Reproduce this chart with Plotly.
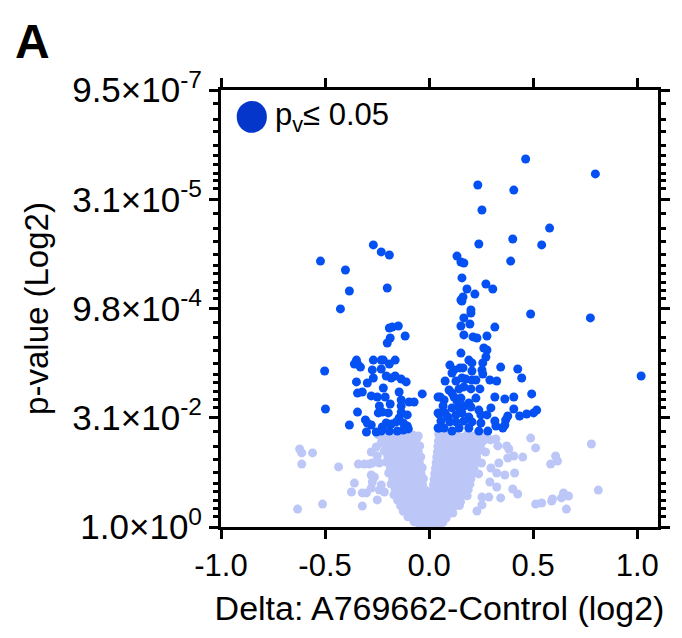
import plotly.graph_objects as go

# ---------------- data (x = log2 delta, y = -log2 p) ----------------
# significant points (p <= 0.05)
sig_x = [
    -0.522, -0.402, -0.383, -0.426, -0.268, -0.230, -0.191, -0.201,
    0.464, 0.799, 0.234, 0.407, 0.254, 0.579, 0.239, 0.402, 0.541, 0.134, 0.153, 0.167, 0.392, 0.158, 0.273, 0.306, 0.182, 0.220, 0.163, 0.153, 0.201,
    -0.502, -0.498, -0.383, -0.349, -0.344, -0.359, -0.330, -0.349, -0.344, -0.321, -0.344, -0.297, -0.268, -0.273, -0.268, -0.230, -0.220, -0.230, -0.191, -0.163,
    -0.191, -0.177, -0.148, -0.187, -0.201, -0.115, -0.206, -0.182, -0.163, -0.134, -0.110, -0.278, -0.249, -0.220, -0.211, -0.144, -0.239, -0.244, -0.225, -0.187,
    -0.134, -0.134, -0.096, -0.072, -0.033, -0.196, -0.134, -0.105, -0.306, -0.297, -0.278, -0.301, -0.254, -0.225, -0.206, -0.182, -0.158, -0.144, -0.124, -0.105,
    -0.100, -0.230, -0.191, -0.153, -0.124, 0.043, 0.043, 0.043,
    0.158, 0.201, 0.167, 0.196, 0.153, 0.316, 0.488, 0.775, 1.019, 0.167, 0.211, 0.230, 0.278, 0.263, 0.278, 0.153, 0.273, 0.191, 0.206, 0.258,
    0.344, 0.426, 0.445, 0.100, 0.120, 0.110, 0.148, 0.163, 0.206, 0.254, 0.258, 0.077, 0.129, 0.158, 0.177, 0.206, 0.225, 0.292, 0.325, 0.096,
    0.110, 0.144, 0.167, 0.201, 0.244, 0.316, 0.364, 0.407, 0.493, 0.053, 0.072, 0.120, 0.134, 0.153, 0.225, 0.191, 0.067, 0.110, 0.144, 0.167,
    0.201, 0.239, 0.297, 0.407, 0.517, 0.502, 0.469, 0.435, 0.048, 0.077, 0.091, 0.129, 0.158, 0.191, 0.249, 0.278, 0.378, 0.368, 0.057, 0.100,
    0.129, 0.167, 0.206, 0.249, 0.316, 0.321, 0.364, 0.048, 0.072, 0.110, 0.144, 0.191, 0.239, 0.282, 0.354,
]
sig_y = [
    12.17, 11.76, 10.80, 9.98, 12.91, 12.59, 12.45, 10.94,
    16.84, 16.16, 15.65, 15.42, 14.51, 13.68, 12.95, 13.18, 12.91, 12.40, 12.13, 12.08, 12.17, 11.40, 11.12, 10.89, 10.89, 10.66, 10.53, 10.39, 9.93,
    7.14, 5.40, 4.67, 7.64, 7.46, 7.46, 7.32, 6.64, 6.13, 6.18, 5.26, 6.59, 6.82, 7.19, 7.64, 7.64, 7.64, 7.23, 7.46, 7.64,
    9.11, 9.15, 9.20, 8.65, 8.42, 8.74, 6.91, 6.82, 6.91, 6.77, 6.64, 6.00, 5.95, 6.36, 5.95, 6.18, 5.54, 5.22, 5.26, 5.63,
    5.81, 5.54, 5.72, 5.72, 6.09, 5.22, 5.26, 5.13, 4.90, 4.76, 4.67, 4.35, 4.35, 4.58, 4.76, 4.71, 4.81, 4.99, 4.76, 4.62,
    4.49, 4.39, 4.39, 4.39, 4.44, 5.95, 5.22, 4.53,
    10.34, 9.79, 9.57, 9.29, 9.20, 9.15, 9.75, 9.57, 6.91, 8.79, 8.70, 8.65, 8.74, 8.19, 8.10, 7.96, 7.78, 7.64, 7.51, 7.51,
    7.32, 7.23, 6.82, 7.41, 7.19, 7.05, 7.28, 7.28, 7.14, 7.19, 7.00, 6.68, 6.68, 6.82, 6.77, 6.73, 6.73, 6.73, 6.68, 6.27,
    6.13, 6.32, 6.41, 6.32, 6.32, 5.95, 5.86, 5.95, 6.09, 5.95, 5.81, 5.95, 5.77, 5.90, 5.90, 5.68, 5.54, 5.45, 5.49, 5.54,
    5.49, 5.35, 5.45, 5.40, 5.35, 5.22, 5.17, 5.08, 5.17, 5.22, 5.03, 5.13, 5.22, 5.03, 5.13, 5.13, 5.08, 4.90, 4.85, 4.81,
    4.81, 4.85, 4.81, 4.76, 4.85, 4.62, 4.67, 4.53, 4.53, 4.39, 4.53, 4.53, 4.39, 4.39, 4.53,
]

# non-significant points: scattered outliers
ns_out_x = [
    -0.622, -0.612, -0.560, -0.612, -0.435, -0.632, -0.512, -0.359, -0.373, -0.321,
    -0.301, -0.321, -0.340, -0.311, -0.287, -0.273, -0.239, -0.278, -0.263, -0.273,
    -0.278, -0.239, -0.249, -0.230, -0.215, -0.278, -0.254, -0.230, -0.249, -0.206,
    0.488, 0.512, 0.780, 0.608, 0.617, 0.584, 0.450, 0.407, 0.378, 0.373,
    0.330, 0.321, 0.383, 0.411, 0.364, 0.325, 0.297, 0.335, 0.813, 0.646,
    0.670, 0.636, 0.593, 0.589, 0.541, 0.512, 0.660, 0.426, 0.402, 0.344,
    0.325, 0.292, 0.287, 0.254, 0.230, 0.254,
]
ns_out_y = [
    3.57, 3.39, 3.39, 2.88, 2.75, 0.82, 1.05, 2.01, 1.60, 1.56,
    1.56, 0.96, 2.88, 2.88, 2.88, 2.93, 2.93, 2.38, 2.29, 2.06,
    1.78, 1.69, 1.24, 1.92, 1.60, 3.43, 3.66, 3.84, 3.25, 3.66,
    4.07, 3.62, 3.80, 3.25, 3.02, 2.88, 3.20, 3.25, 3.16, 3.71,
    3.71, 4.03, 3.57, 2.47, 2.38, 2.47, 2.70, 2.93, 1.69, 1.56,
    1.42, 1.33, 1.28, 1.19, 1.10, 1.05, 0.82, 1.51, 1.74, 1.33,
    1.83, 2.06, 1.37, 1.37, 0.73, 1.01,
]

# non-significant points: dense V-shaped core
ns_core_x = [
    -0.245, -0.212, -0.183, -0.152, -0.128, -0.101, -0.078, -0.052, 0.046, 0.071, 0.098, 0.127, 0.156, 0.183, 0.214, 0.241, 0.268,
    -0.226, -0.195, -0.168, -0.139, -0.112, -0.087, -0.061, 0.045, 0.066, 0.089, 0.118, 0.143, 0.172, 0.201, 0.229, 0.262, 0.296,
    -0.205, -0.176, -0.148, -0.121, -0.094, -0.069, -0.045, 0.042, 0.061, 0.084, 0.108, 0.136, 0.164, 0.191, 0.218, 0.247,
    -0.215, -0.187, -0.158, -0.131, -0.104, -0.078, -0.052, 0.040, 0.058, 0.079, 0.103, 0.129, 0.157, 0.185, 0.208, 0.236, 0.271,
    -0.198, -0.169, -0.141, -0.113, -0.088, -0.063, -0.040, 0.037, 0.055, 0.075, 0.098, 0.124, 0.151, 0.176, 0.203, 0.228,
    -0.206, -0.178, -0.149, -0.122, -0.096, -0.071, -0.047, 0.034, 0.052, 0.071, 0.093, 0.119, 0.145, 0.171, 0.196, 0.224, 0.252,
    -0.186, -0.158, -0.131, -0.104, -0.079, -0.055, -0.033, 0.031, 0.048, 0.067, 0.089, 0.114, 0.139, 0.165, 0.190, 0.216,
    -0.194, -0.165, -0.138, -0.112, -0.087, -0.062, -0.039, 0.027, 0.044, 0.063, 0.085, 0.109, 0.134, 0.158, 0.183, 0.207, 0.238,
    -0.175, -0.147, -0.120, -0.095, -0.070, -0.047, -0.027, 0.024, 0.040, 0.059, 0.081, 0.104, 0.128, 0.152, 0.177, 0.201,
    -0.182, -0.155, -0.128, -0.102, -0.077, -0.054, -0.032, 0.021, 0.036, 0.055, 0.076, 0.099, 0.122, 0.146, 0.171, 0.196,
    -0.163, -0.137, -0.111, -0.086, -0.062, -0.040, -0.020, 0.017, 0.032, 0.051, 0.071, 0.094, 0.117, 0.140, 0.164, 0.188,
    -0.169, -0.144, -0.119, -0.094, -0.070, -0.047, -0.026, -0.010, 0.013, 0.028, 0.047, 0.067, 0.089, 0.111, 0.134, 0.158, 0.183,
    -0.151, -0.126, -0.101, -0.078, -0.055, -0.034, -0.014, 0.004, 0.021, 0.041, 0.062, 0.084, 0.106, 0.128, 0.151,
    -0.137, -0.112, -0.088, -0.065, -0.043, -0.022, -0.003, 0.015, 0.035, 0.056, 0.078, 0.099, 0.121, 0.146,
    -0.124, -0.099, -0.075, -0.053, -0.032, -0.012, 0.007, 0.027, 0.048, 0.069, 0.091, 0.114,
    -0.102, -0.079, -0.057, -0.036, -0.017, 0.002, 0.021, 0.040, 0.061, 0.083,
    -0.072, -0.051, -0.031, -0.012, 0.006, 0.025, 0.045, 0.066,
    -0.041, -0.022, -0.004, 0.014, 0.033, 0.051,
]
ns_core_y = [
    4.22, 4.15, 4.25, 4.18, 4.27, 4.12, 4.21, 4.17, 4.24, 4.14, 4.26, 4.19, 4.11, 4.23, 4.16, 4.20, 4.13,
    3.97, 3.91, 4.00, 3.93, 3.98, 3.89, 4.02, 3.94, 3.99, 3.90, 3.96, 4.01, 3.92, 3.97, 3.88, 3.95, 3.99,
    3.72, 3.66, 3.75, 3.68, 3.73, 3.64, 3.71, 3.69, 3.76, 3.65, 3.70, 3.74, 3.67, 3.72, 3.63, 3.71,
    3.47, 3.41, 3.49, 3.43, 3.48, 3.40, 3.46, 3.44, 3.50, 3.42, 3.47, 3.39, 3.45, 3.48, 3.41, 3.46, 3.43,
    3.22, 3.16, 3.24, 3.18, 3.23, 3.15, 3.21, 3.19, 3.25, 3.17, 3.22, 3.14, 3.20, 3.23, 3.16, 3.21,
    2.97, 2.91, 2.99, 2.93, 2.98, 2.90, 2.96, 2.94, 3.00, 2.92, 2.97, 2.89, 2.95, 2.98, 2.91, 2.96, 2.93,
    2.72, 2.66, 2.74, 2.68, 2.73, 2.65, 2.71, 2.69, 2.75, 2.67, 2.72, 2.64, 2.70, 2.73, 2.66, 2.71,
    2.47, 2.41, 2.49, 2.43, 2.48, 2.40, 2.46, 2.44, 2.50, 2.42, 2.47, 2.39, 2.45, 2.48, 2.41, 2.46, 2.43,
    2.22, 2.16, 2.24, 2.18, 2.23, 2.15, 2.21, 2.19, 2.25, 2.17, 2.22, 2.14, 2.20, 2.23, 2.16, 2.21,
    1.97, 1.91, 1.99, 1.93, 1.98, 1.90, 1.96, 1.94, 2.00, 1.92, 1.97, 1.89, 1.95, 1.98, 1.91, 1.96,
    1.72, 1.66, 1.74, 1.68, 1.73, 1.65, 1.71, 1.69, 1.75, 1.67, 1.72, 1.64, 1.70, 1.73, 1.66, 1.71,
    1.47, 1.41, 1.49, 1.43, 1.48, 1.40, 1.46, 1.44, 1.50, 1.42, 1.47, 1.39, 1.45, 1.48, 1.41, 1.46, 1.43,
    1.22, 1.16, 1.24, 1.18, 1.23, 1.15, 1.21, 1.19, 1.25, 1.17, 1.22, 1.14, 1.20, 1.23, 1.16,
    0.97, 0.91, 0.99, 0.93, 0.98, 0.90, 0.96, 0.94, 1.00, 0.92, 0.97, 0.89, 0.95, 0.98,
    0.72, 0.66, 0.74, 0.68, 0.73, 0.65, 0.71, 0.69, 0.75, 0.67, 0.72, 0.64,
    0.47, 0.41, 0.49, 0.43, 0.48, 0.40, 0.46, 0.44, 0.50, 0.42,
    0.24, 0.18, 0.26, 0.20, 0.25, 0.17, 0.23, 0.21,
    0.07, 0.03, 0.08, 0.04, 0.06, 0.02,
]

assert len(sig_x) == len(sig_y)
assert len(ns_out_x) == len(ns_out_y)
assert len(ns_core_x) == len(ns_core_y)

# axis ticks
x_tick_vals = [-1.0, -0.5, 0.0, 0.5, 1.0]
x_tick_text = ["-1.0", "-0.5", "0.0", "0.5", "1.0"]
y_tick_vals = [0, 5, 10, 15, 20]
y_tick_text = ["1.0×10<sup>0</sup>", "3.1×10<sup>-2</sup>", "9.8×10<sup>-4</sup>",
               "3.1×10<sup>-5</sup>", "9.5×10<sup>-7</sup>"]
minor_offsets = [0.64, 1.33, 1.92, 2.52, 3.02, 3.39, 3.80, 4.16, 4.53]
y_minor_vals = [top - o for top in y_tick_vals[1:] for o in minor_offsets]

FONT = "Liberation Sans, Arial, Helvetica, sans-serif"
SIG_COLOR = "#0550F2"
NS_COLOR = "#BCC7F7"

fig = go.Figure()
fig.add_trace(go.Scatter(
    x=ns_core_x + ns_out_x, y=ns_core_y + ns_out_y, mode="markers",
    marker=dict(size=9, color=NS_COLOR, line=dict(width=0)),
    showlegend=False, hoverinfo="skip"))
fig.add_trace(go.Scatter(
    x=sig_x, y=sig_y, mode="markers",
    marker=dict(size=9, color=SIG_COLOR, line=dict(width=0)),
    showlegend=False))

fig.update_layout(
    width=682, height=638,
    margin=dict(l=221, r=22, t=90, b=111, pad=0),
    plot_bgcolor="white", paper_bgcolor="white",
    font=dict(family=FONT, color="black"),
    xaxis=dict(
        range=[-1.0, 1.1], tickvals=x_tick_vals, ticktext=x_tick_text,
        ticks="outside", ticklen=9, tickwidth=3, tickcolor="black",
        showline=True, linewidth=3, linecolor="black", mirror="ticks",
        showgrid=False, zeroline=False,
        tickfont=dict(size=31, family=FONT),
        title=dict(text="Delta: A769662-Control (log2)", font=dict(size=34, family=FONT), standoff=14),
    ),
    yaxis=dict(
        range=[0, 20], tickvals=y_tick_vals, ticktext=y_tick_text,
        ticks="outside", ticklen=9, tickwidth=3, tickcolor="black",
        showline=True, linewidth=3, linecolor="black", mirror="ticks",
        showgrid=False, zeroline=False,
        minor=dict(tickvals=y_minor_vals, ticks="outside", ticklen=5, tickwidth=3, tickcolor="black", showgrid=False),
        tickfont=dict(size=35, family=FONT),
        title=dict(text="p-value (Log2)", font=dict(size=33, family=FONT), standoff=14),
    ),
)

# legend (drawn as shape + label)
fig.add_shape(type="circle", xref="paper", yref="paper",
              x0=0.036, x1=0.105, y0=0.902, y1=0.975,
              fillcolor="#0536CC", line=dict(width=0))
fig.add_annotation(xref="paper", yref="paper", x=0.118, y=0.938,
                   xanchor="left", yanchor="middle", showarrow=False,
                   text="p<sub>v</sub>≤ 0.05", font=dict(size=31, family=FONT, color="black"))
# panel letter
fig.add_annotation(xref="paper", yref="paper", x=-0.475, y=1.11,
                   xanchor="left", yanchor="middle", showarrow=False,
                   text="<b>A</b>", font=dict(size=48, family=FONT, color="black"))

fig.write_html("out.html")
